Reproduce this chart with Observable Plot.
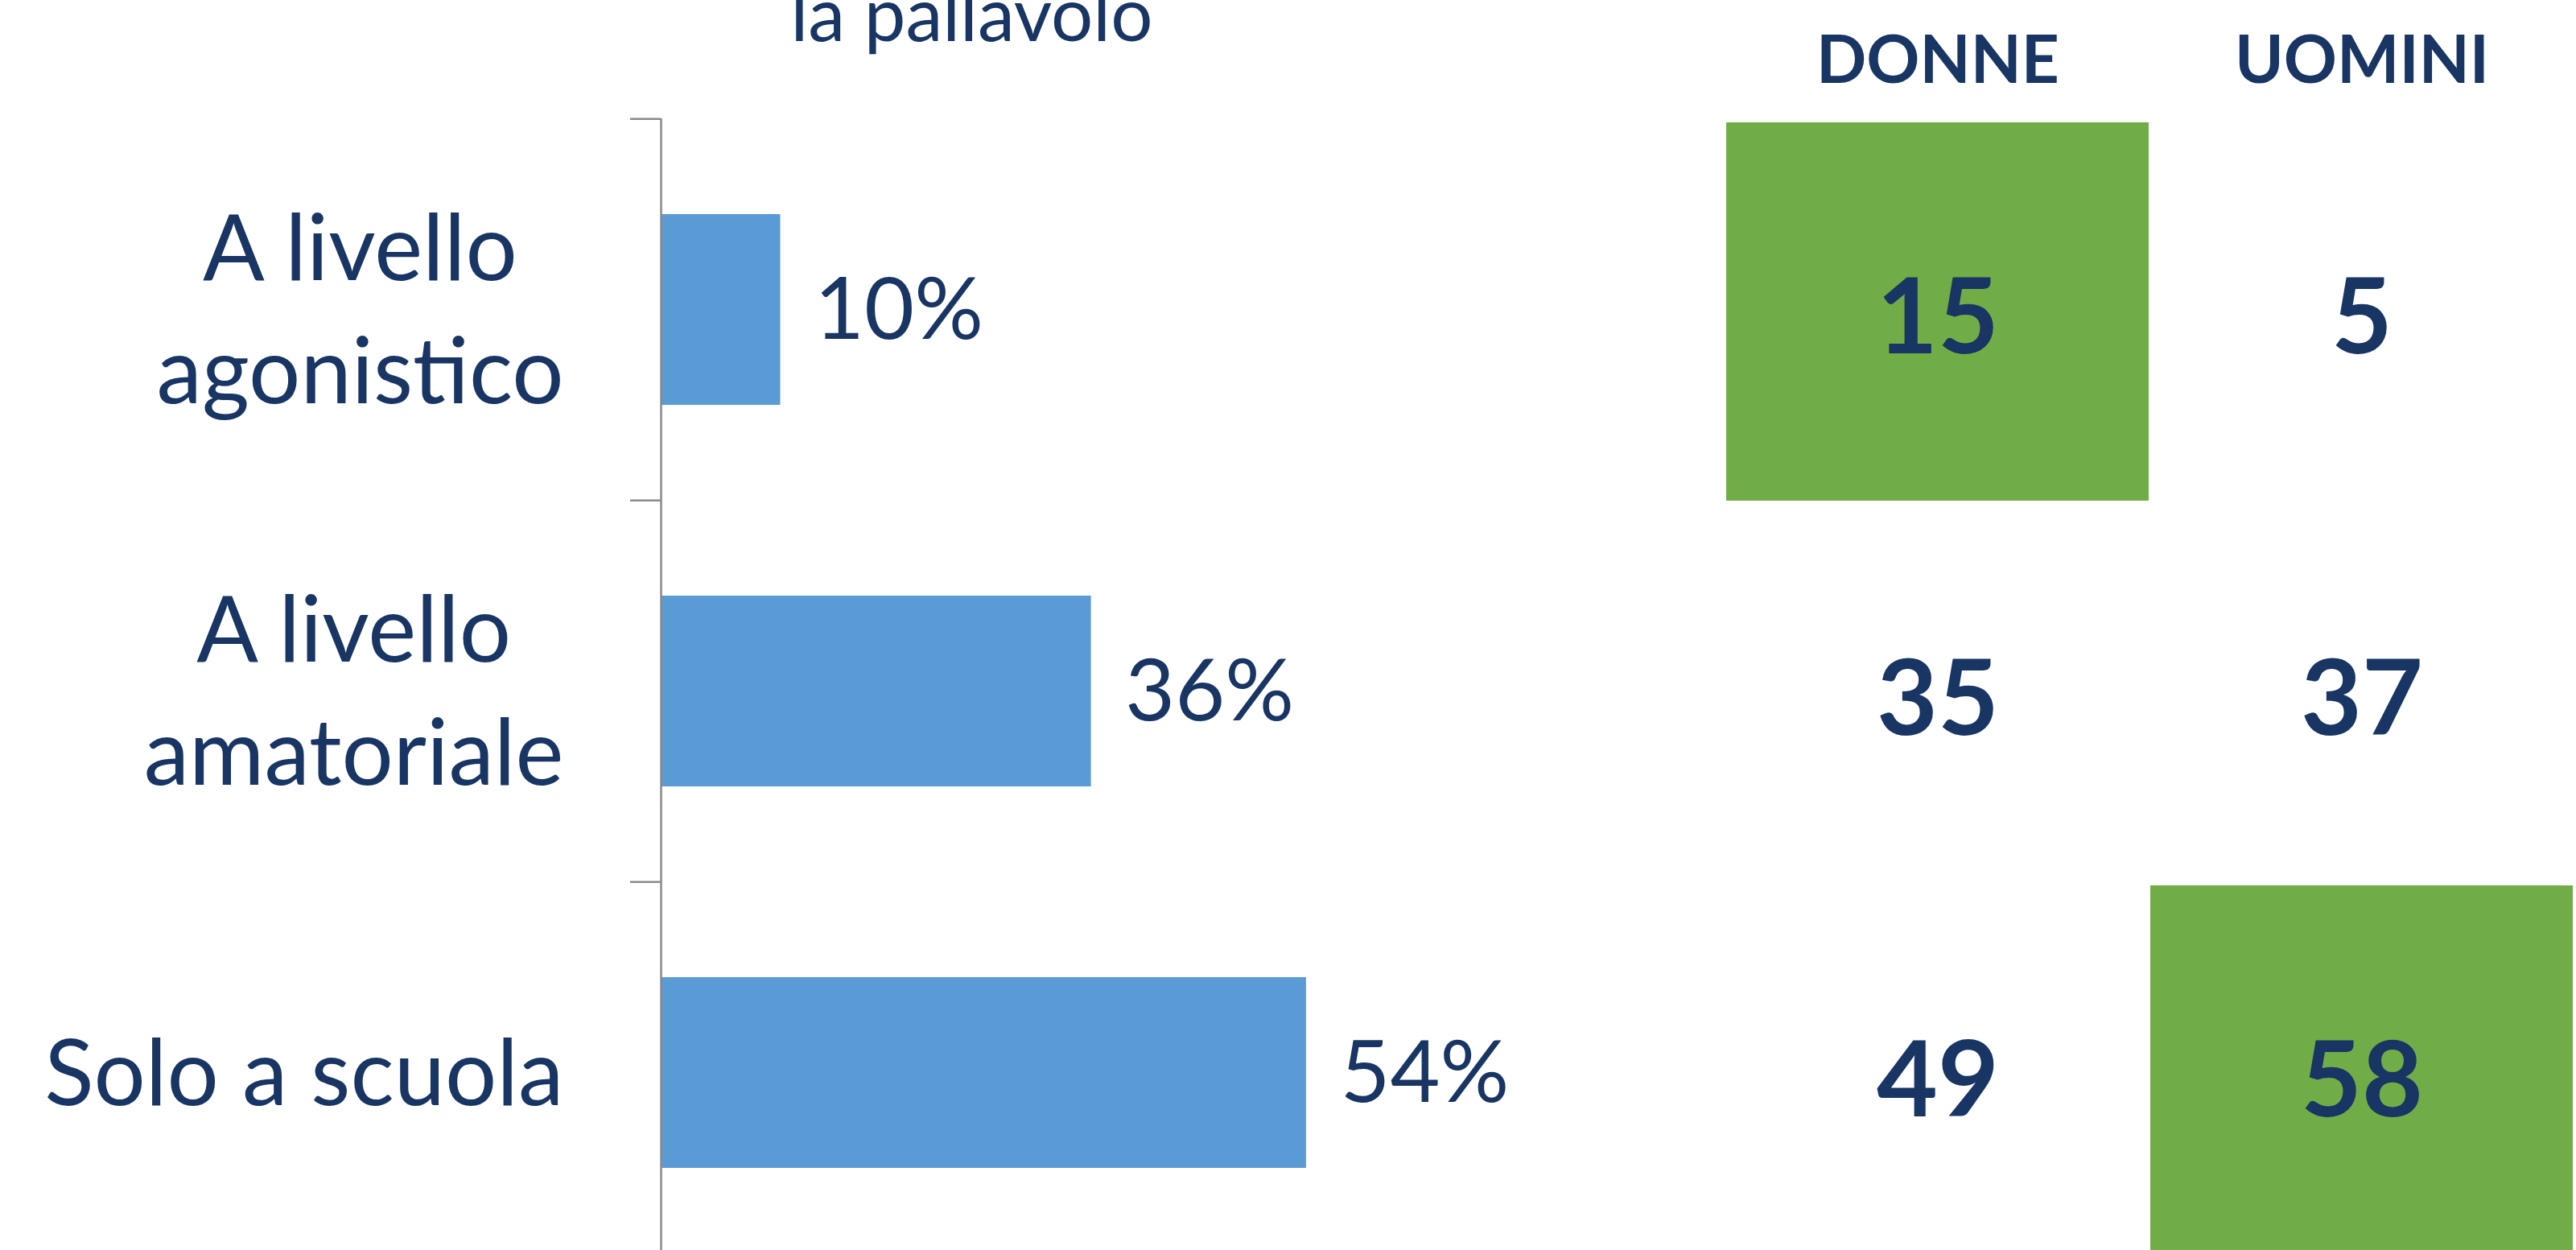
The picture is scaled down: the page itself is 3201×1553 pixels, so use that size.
<!DOCTYPE html>
<html>
<head>
<meta charset="utf-8">
<script src="https://cdn.jsdelivr.net/npm/d3@7"></script>
<script src="https://cdn.jsdelivr.net/npm/@observablehq/plot@0.6"></script>
<style>
  html, body { margin: 0; padding: 0; background: #ffffff; overflow: hidden; }
  #wrap { position: relative; width: 3201px; height: 1553px; overflow: hidden; background: #ffffff; }
  #wrap svg { position: absolute; left: 0; top: 0; }
</style>
</head>
<body>
<div id="wrap"></div>
<script>
// ---- data ----
const title = "la pallavolo";
const categoryKeys = ["A livello agonistico", "A livello amatoriale", "Solo a scuola"];
const categoryLines = [["A livello", "agonistico"], ["A livello", "amatoriale"], ["Solo a scuola"]];
const shares = [10, 36, 54];
const columns = ["DONNE", "UOMINI"];
const donne = [15, 35, 49];
const uomini = [5, 37, 58];
const highlightDonne = [true, false, false];
const highlightUomini = [false, false, true];

// ---- styling / layout ----
const W = 3201, H = 1553;
const FONT = "Lato, 'Open Sans', sans-serif";
const NAVY = "#183563";
const BLUE = "#5B9BD5";
const GREEN = "#70AD47";
const AXIS = "#8a8a8a";

const ctx = document.createElement("canvas").getContext("2d");
function measure(text, weight, size) { ctx.font = `${weight} ${size}px Lato`; return ctx.measureText(text).width; }
function fit(text, weight, target) { return 100 * target / measure(text, weight, 100); }

const labelSize = fit("agonistico", 400, 506);
const valueSize = fit("54%", 400, 210);
const titleSize = fit(title, 400, 450);
const headSize = fit("DONNE", 700, 302);
const numSize = fit("15", 700, 152);

const marginTop = 147, marginBottom = -17;
const axisX = 821, pxPerPct = 14.85, xMax = 100;
const step = (H - marginBottom - marginTop) / categoryKeys.length;

const bars = categoryKeys.map((cat, i) => ({cat, value: shares[i]}));
const cells = [];
categoryKeys.forEach((cat, i) => {
  cells.push({cat, col: columns[0], value: donne[i], hi: highlightDonne[i]});
  cells.push({cat, col: columns[1], value: uomini[i], hi: highlightUomini[i]});
});

const labelMarks = categoryKeys.map((cat, i) => {
  const lines = categoryLines[i];
  const blockW = Math.max(...lines.map(l => measure(l, 400, labelSize)));
  return Plot.text([cat], {
    y: d => d,
    text: () => lines.join("\n"),
    frameAnchor: "left",
    textAnchor: "middle",
    dx: -(121 + blockW / 2),
    dy: -9,
    fontSize: labelSize,
    lineHeight: 153 / labelSize,
    fill: NAVY
  });
});

const chart = Plot.plot({
  width: W,
  height: H,
  marginTop,
  marginBottom,
  marginLeft: axisX,
  marginRight: W - axisX - xMax * pxPerPct,
  style: {fontFamily: FONT, background: "transparent"},
  x: {domain: [0, xMax], axis: null},
  y: {domain: categoryKeys, axis: null, paddingInner: 0.5, paddingOuter: 0.25},
  marks: [
    Plot.barX(bars, {x: "value", y: "cat", fill: BLUE}),
    Plot.text(bars, {x: "value", y: "cat", text: d => d.value + "%", textAnchor: "start", dx: 42, dy: 2, fontSize: valueSize, fill: NAVY}),
    Plot.ruleX([0], {stroke: AXIS, strokeWidth: 2.5}),
    Plot.ruleY(categoryKeys, {y: d => d, x1: -38 / pxPerPct, x2: 0, dy: -step / 2, stroke: AXIS, strokeWidth: 2.5}),
    ...labelMarks,
    Plot.text([title], {text: d => d, frameAnchor: "top-left", textAnchor: "middle", lineAnchor: "bottom", dx: 1207 - axisX, dy: 50 - marginTop, fontSize: titleSize, fill: NAVY})
  ]
});

const table = Plot.plot({
  width: W,
  height: H,
  marginTop,
  marginBottom,
  marginLeft: 2144,
  marginRight: 3,
  style: {fontFamily: FONT, background: "transparent"},
  x: {domain: columns, axis: null, padding: 0},
  y: {domain: categoryKeys, axis: null, padding: 0},
  marks: [
    Plot.cell(cells, {filter: d => d.hi, x: "col", y: "cat", fill: GREEN, insetLeft: 1, insetRight: 1, insetTop: 4}),
    Plot.text(cells, {x: "col", y: "cat", text: d => String(d.value), fontSize: numSize, fontWeight: "bold", fill: NAVY, dy: 12}),
    Plot.text(columns, {x: d => d, text: d => d, frameAnchor: "top", lineAnchor: "bottom", dy: 102 - marginTop, fontSize: headSize, fontWeight: "bold", fill: NAVY})
  ]
});

const wrap = document.getElementById("wrap");
wrap.appendChild(chart);
wrap.appendChild(table);
</script>
</body>
</html>
